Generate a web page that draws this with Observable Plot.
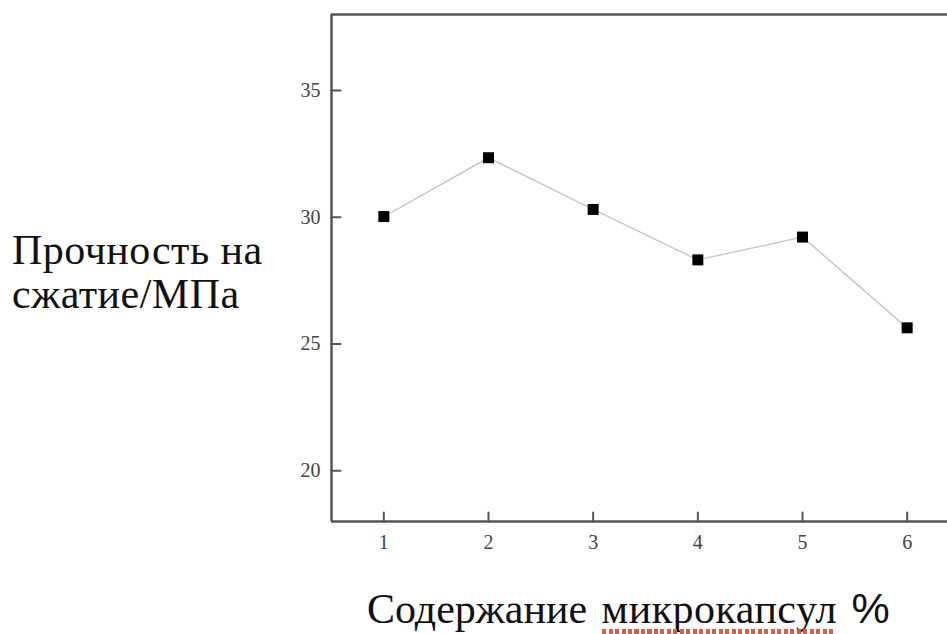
<!DOCTYPE html>
<html>
<head>
<meta charset="utf-8">
<script src="https://cdn.jsdelivr.net/npm/d3@7"></script>
<script src="https://cdn.jsdelivr.net/npm/@observablehq/plot@0.6"></script>
<style>
  html, body { margin: 0; padding: 0; background: #fff; }
  #wrap { position: relative; width: 947px; height: 634px; overflow: hidden; background: #fff; }
  #chart { position: absolute; left: 0; top: 0; width: 959px; }
  #chart svg { max-width: none !important; }
  .lbl { position: absolute; font-family: "Liberation Serif", "Times New Roman", serif; color: #111; white-space: nowrap; }
  #ylabel { left: 12px; top: 228px; font-size: 42px; line-height: 44px; letter-spacing: 0.5px; }
  #xlabel { left: 367px; top: 588px; font-size: 42px; line-height: 40px; word-spacing: 4px; }
  .pct { font-family: "Liberation Sans", Arial, sans-serif; font-size: 43px; line-height: 40px; }
  .spell { position: relative; display: inline-block; line-height: 40px; letter-spacing: 0.5px; }
  .spell::after { content: ""; position: absolute; left: 0; right: 4px; top: 40px; height: 6px;
    background: repeating-linear-gradient(to right, #e05a42 0 4px, transparent 4px 6.5px); }
</style>
</head>
<body>
<div id="wrap">
  <div id="chart"></div>
  <div id="ylabel" class="lbl">Прочность на<br>сжатие/МПа</div>
  <div id="xlabel" class="lbl">Содержание <span class="spell">микрокапсул</span> <span class="pct">%</span></div>
</div>
<script>
const content = [1, 2, 3, 4, 5, 6];
const strength = [30.03, 32.35, 30.31, 28.32, 29.22, 25.64];
const xTicks = [1, 2, 3, 4, 5, 6];
const yTicks = [20, 25, 30, 35];
const xDomain = [0.5, 6.5];
const yDomain = [18, 38];

const data = content.map((c, i) => ({c, s: strength[i]}));

const axisColor = "#555";
const tickShape = {draw(context, l) { context.moveTo(0, 0); context.lineTo(0, -l); }};

const plot = Plot.plot({
  width: 959,
  height: 634,
  marginLeft: 331,
  marginRight: 0,
  marginTop: 14,
  marginBottom: 113,
  style: {fontFamily: "'Liberation Serif', 'Times New Roman', serif", fontSize: "20px", color: "#444", background: "transparent", overflow: "visible", maxWidth: "none"},
  x: {domain: xDomain},
  y: {domain: yDomain},
  marks: [
    Plot.axisX({ticks: xTicks, tickSize: 0, tickPadding: 13, tickFormat: d => String(d), label: null}),
    Plot.axisY({ticks: yTicks, tickSize: 0, tickPadding: 11, tickFormat: d => String(d), label: null}),
    Plot.vector(xTicks, {x: d => d, y: () => yDomain[0], length: 9, rotate: 0, anchor: "start", shape: tickShape, stroke: axisColor, strokeWidth: 2}),
    Plot.vector(yTicks, {x: () => xDomain[0], y: d => d, length: 9, rotate: 90, anchor: "start", shape: tickShape, stroke: axisColor, strokeWidth: 2}),
    Plot.ruleX([xDomain[0]], {stroke: axisColor, strokeWidth: 2.5}),
    Plot.ruleY([yDomain[0], yDomain[1]], {stroke: axisColor, strokeWidth: 2.5}),
    Plot.line(data, {x: "c", y: "s", stroke: "#c8c8c8", strokeWidth: 1.5}),
    Plot.dot(data, {x: "c", y: "s", symbol: "square", r: 6.2, fill: "#000", stroke: null})
  ]
});
document.getElementById("chart").appendChild(plot);
</script>
</body>
</html>
